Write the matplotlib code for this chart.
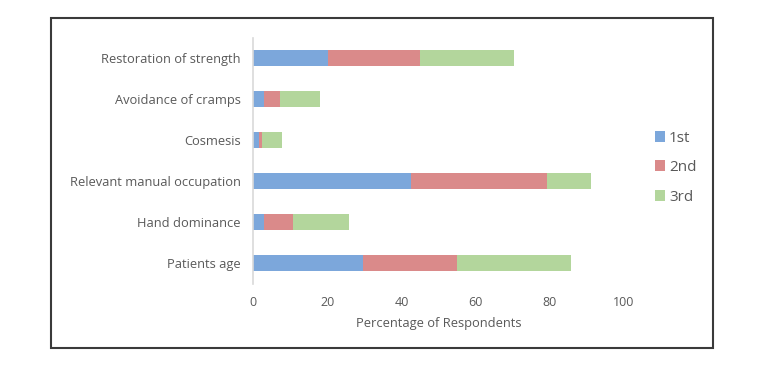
import matplotlib
matplotlib.use("Agg")
import matplotlib.pyplot as plt
from matplotlib.patches import Rectangle

categories = [
    "Patients age",
    "Hand dominance",
    "Relevant manual occupation",
    "Cosmesis",
    "Avoidance of cramps",
    "Restoration of strength",
]
first = [29.7, 3.0, 42.5, 1.7, 3.0, 20.2]
second = [25.2, 7.8, 36.8, 0.8, 4.4, 24.8]
third = [30.9, 15.1, 11.9, 5.3, 10.7, 25.4]
series_labels = ["1st", "2nd", "3rd"]
xticks = [0, 20, 40, 60, 80, 100]

colors = ["#7ca7db", "#da8a8a", "#b3d69c"]
text_color = "#595959"

plt.rcParams["font.family"] = ["Open Sans", "DejaVu Sans"]

fig = plt.figure(figsize=(7.67, 3.69), dpi=100)
ax = fig.add_axes([253 / 767, 1 - 283.5 / 369, 371 / 767, 246 / 369])

y = range(len(categories))
left = [0] * len(categories)
for vals, col, lab in zip([first, second, third], colors, series_labels):
    ax.barh(y, vals, left=left, height=0.37, color=col, label=lab)
    left = [a + b for a, b in zip(left, vals)]

ax.set_xlim(0, 100)
ax.set_ylim(-0.5, len(categories) - 0.5)
ax.set_xticks(xticks)
ax.set_yticks(list(y))
ax.set_yticklabels(categories, fontsize=9.3)
ax.tick_params(axis="both", length=0, colors=text_color)
ax.tick_params(axis="x", pad=9, labelsize=9)
ax.tick_params(axis="y", pad=9)
for s in ["top", "right", "bottom"]:
    ax.spines[s].set_visible(False)
ax.spines["left"].set_color("#d9d9d9")
ax.spines["left"].set_linewidth(1.2)
ax.set_xlabel("Percentage of Respondents", color=text_color, fontsize=9.3, labelpad=6)

leg = fig.legend(loc="upper left", bbox_to_anchor=(647 / 767, 1 - 123 / 369),
                 frameon=False, fontsize=11, labelspacing=0.95,
                 handlelength=0.7, handleheight=0.7, handletextpad=0.25,
                 borderpad=0)
for t in leg.get_texts():
    t.set_color(text_color)

# outer frame
fig.patches.append(Rectangle((50.7 / 767, 1 - 348.3 / 369), (713.3 - 50.7) / 767,
                             (348.3 - 18.3) / 369, transform=fig.transFigure,
                             fill=False, edgecolor="#3a3a3a", linewidth=1.5))

fig.savefig("out.png", dpi=100)
